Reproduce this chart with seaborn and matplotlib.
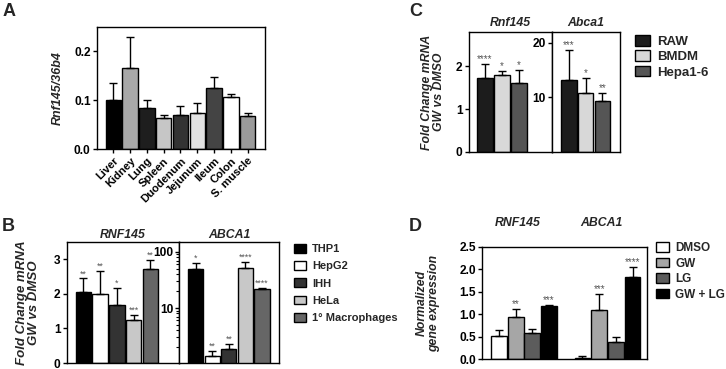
import numpy as np
import pandas as pd
import matplotlib
matplotlib.use('Agg')
import matplotlib.pyplot as plt
from matplotlib.patches import Patch
import seaborn as sns

# Panel A - Rnf145 across mouse tissues
tissues = ['Liver', 'Kidney', 'Lung', 'Spleen', 'Duodenum', 'Jejunum', 'Ileum', 'Colon', 'S. muscle']
tissue_mean = [0.101, 0.167, 0.085, 0.064, 0.070, 0.074, 0.124, 0.107, 0.068]
tissue_err = [0.035, 0.062, 0.016, 0.006, 0.019, 0.021, 0.024, 0.006, 0.006]
tissue_colors = ['#000000', '#a8a8a8', '#1e1e1e', '#c6c6c6', '#333333', '#e2e2e2', '#444444', '#ffffff', '#9a9a9a']

# Panel B - human cells
human_cells = ['THP1', 'HepG2', 'IHH', 'HeLa', '1° Macrophages']
human_colors = ['#000000', '#ffffff', '#333333', '#c8c8c8', '#666666']
b_rnf_mean = [2.06, 2.0, 1.68, 1.25, 2.72]
b_rnf_err = [0.39, 0.67, 0.49, 0.14, 0.27]
b_rnf_stars = ['**', '**', '*', '***', '**']
b_abca_mean = [50, 1.4, 1.87, 52, 22]
b_abca_err = [13, 0.34, 0.43, 14, 1]
b_abca_stars = ['*', '**', '**', '****', '****']

# Panel C - mouse cells
mouse_cells = ['RAW', 'BMDM', 'Hepa1-6']
mouse_colors = ['#1c1c1c', '#d8d8d8', '#555555']
c_rnf_mean = [1.72, 1.79, 1.61]
c_rnf_err = [0.33, 0.10, 0.30]
c_rnf_stars = ['****', '*', '*']
c_abca_mean = [13.2, 10.8, 9.4]
c_abca_err = [5.5, 2.8, 1.4]
c_abca_stars = ['***', '*', '**']

# Panel D - GW / LG treatment
genes = ['RNF145', 'ABCA1']
treatments = ['DMSO', 'GW', 'LG', 'GW + LG']
treat_colors = ['#ffffff', '#a6a6a6', '#5c5c5c', '#000000']
d_rnf_mean = [0.51, 0.94, 0.58, 1.19]
d_rnf_err = [0.14, 0.18, 0.08, 0.02]
d_abca_mean = [0.03, 1.09, 0.37, 1.82]
d_abca_err = [0.03, 0.35, 0.13, 0.24]
d_rnf_stars = ['', '**', '', '***']
d_abca_stars = ['', '***', '', '****']

sns.set_style('ticks')
plt.rcParams['font.family'] = ['Liberation Sans', 'DejaVu Sans']
plt.rcParams['font.weight'] = 'bold'
plt.rcParams['axes.linewidth'] = 1.0
plt.rcParams['axes.edgecolor'] = 'black'
plt.rcParams['xtick.color'] = 'black'
plt.rcParams['ytick.color'] = 'black'

TICK_FS = 8.6
TITLE_FS = 8.8

W, H = 726, 369
fig = plt.figure(figsize=(W / 100, H / 100), dpi=100)


def add_ax(x0, y0, x1, y1):
    return fig.add_axes([x0 / W, 1 - y1 / H, (x1 - x0) / W, (y1 - y0) / H])


def stars_above(ax, xs, tops, stars, fs=7):
    for x, t, s in zip(xs, tops, stars):
        if s:
            ax.annotate(s, (x, t), xytext=(0, 0), textcoords='offset points',
                        ha='center', va='bottom', fontsize=fs, color='#555555', fontweight='normal')


def bar_panel(ax, labels, means, errs, colors, stars=None, width=0.92, star_fs=7):
    df = pd.DataFrame({'label': labels, 'value': means})
    sns.barplot(data=df, x='label', y='value', hue='label', palette=dict(zip(labels, colors)),
                legend=False, width=width, edgecolor='black', linewidth=1.0, ax=ax)
    xs = np.arange(len(labels))
    ax.errorbar(xs, means, yerr=[np.zeros(len(means)), errs], fmt='none', ecolor='black',
                elinewidth=1.0, capsize=3.2, capthick=1.0)
    if stars:
        stars_above(ax, xs, np.array(means) + np.array(errs), stars, star_fs)
    ax.set_xlabel('')
    ax.set_ylabel('')
    ax.tick_params(axis='y', direction='out', length=3, width=1, labelsize=TICK_FS, pad=1.5)


def style_ylabel(ax, text, xpos, fs=8.8):
    ax.set_ylabel(text, fontsize=fs, fontstyle='italic', fontweight='bold', linespacing=1.0)
    ax.yaxis.set_label_coords(xpos, 0.5)


def legend_at(colors, labels, x, y, fs, spacing):
    fig.legend([Patch(facecolor=c, edgecolor='black', linewidth=1.0) for c in colors], labels,
               loc='upper left', bbox_to_anchor=(x / W, 1 - y / H), frameon=False, borderpad=0,
               borderaxespad=0, handlelength=1.1, handleheight=0.85, handletextpad=0.55,
               labelspacing=spacing, prop={'size': fs, 'weight': 'bold'})


# ---- A ----
axA = add_ax(97, 27, 265, 149)
bar_panel(axA, tissues, tissue_mean, tissue_err, tissue_colors)
axA.set_xlim(-0.98, 9.04)
axA.set_ylim(0, 0.25)
axA.set_yticks([0, 0.1, 0.2])
axA.set_yticklabels(['0.0', '0.1', '0.2'])
axA.set_xticks(range(len(tissues)))
axA.set_xticklabels(tissues, rotation=45, ha='right', rotation_mode='anchor', fontsize=8)
axA.tick_params(axis='x', direction='out', length=3, width=1, pad=2)
style_ylabel(axA, 'Rnf145/36b4', -0.2, fs=9)
fig.text(3 / W, 1 - 3 / H, 'A', fontsize=13, fontweight='bold', va='top', ha='left')

# ---- B ----
axB1 = add_ax(67, 242, 179, 363)
bar_panel(axB1, human_cells, b_rnf_mean, b_rnf_err, human_colors, b_rnf_stars, star_fs=6.3)
axB1.set_xlim(-0.98, 5.7)
axB1.set_ylim(0, 3.5)
axB1.set_yticks([0, 1, 2, 3])
axB1.set_xticks([])
axB1.set_title('RNF145', fontsize=TITLE_FS, fontstyle='italic', fontweight='bold', pad=3)
style_ylabel(axB1, 'Fold Change mRNA\nGW vs DMSO', -0.24, fs=9.5)

axB2 = add_ax(179, 242, 279, 363)
bar_panel(axB2, human_cells, b_abca_mean, b_abca_err, human_colors, b_abca_stars, star_fs=6.3)
axB2.set_yscale('log')
axB2.set_xlim(-1.0, 5.02)
axB2.set_ylim(1.05, 150)
axB2.set_yticks([10, 100])
axB2.set_yticklabels(['10', '100'])
axB2.tick_params(axis='y', which='major', pad=1)
axB2.tick_params(axis='y', which='minor', length=2, width=0.8)
axB2.set_xticks([])
axB2.set_title('ABCA1', fontsize=TITLE_FS, fontstyle='italic', fontweight='bold', pad=3)
fig.text(2 / W, 1 - 218 / H, 'B', fontsize=13, fontweight='bold', va='top', ha='left')
legend_at(human_colors, human_cells, 294, 244, 8, 0.62)

# ---- C ----
axC1 = add_ax(469, 32, 552, 152)
bar_panel(axC1, mouse_cells, c_rnf_mean, c_rnf_err, mouse_colors, c_rnf_stars)
axC1.set_xlim(-0.94, 3.94)
axC1.set_ylim(0, 2.8)
axC1.set_yticks([0, 1, 2])
axC1.set_xticks([])
axC1.set_title('Rnf145', fontsize=TITLE_FS, fontstyle='italic', fontweight='bold', pad=4)
style_ylabel(axC1, 'Fold Change mRNA\nGW vs DMSO', -0.29)

axC2 = add_ax(552, 32, 620, 152)
bar_panel(axC2, mouse_cells, c_abca_mean, c_abca_err, mouse_colors, c_abca_stars)
axC2.set_xlim(-1.0, 3.04)
axC2.set_ylim(0, 22)
axC2.set_yticks([10, 20])
axC2.set_xticks([])
axC2.set_title('Abca1', fontsize=TITLE_FS, fontstyle='italic', fontweight='bold', pad=4)
fig.text(409 / W, 1 - 3 / H, 'C', fontsize=13, fontweight='bold', va='top', ha='left')
legend_at(mouse_colors, mouse_cells, 635, 35, 9.5, 0.2)

# ---- D ----
axD = add_ax(482, 247, 647, 359)
d_df = pd.DataFrame({
    'gene': [g for g in genes for _ in treatments],
    'treatment': treatments * len(genes),
    'value': d_rnf_mean + d_abca_mean,
})
sns.barplot(data=d_df, x='gene', y='value', hue='treatment', order=genes, hue_order=treatments,
            palette=dict(zip(treatments, treat_colors)), width=0.8, gap=0.05, legend=False,
            edgecolor='black', linewidth=1.0, ax=axD)
bar_conts = list(axD.containers)
for i, cont in enumerate(bar_conts):
    xs = [p.get_x() + p.get_width() / 2 for p in cont.patches]
    means = [d_rnf_mean[i], d_abca_mean[i]]
    errs = [d_rnf_err[i], d_abca_err[i]]
    axD.errorbar(xs, means, yerr=[np.zeros(2), errs], fmt='none', ecolor='black',
                 elinewidth=1.0, capsize=3.2, capthick=1.0)
    stars_above(axD, xs, np.array(means) + np.array(errs), [d_rnf_stars[i], d_abca_stars[i]])
axD.set_xlim(-0.503, 1.473)
axD.set_ylim(0, 2.5)
axD.set_yticks(np.arange(0, 2.51, 0.5))
axD.set_yticklabels(['%.1f' % v for v in np.arange(0, 2.51, 0.5)])
axD.set_xticks([])
axD.set_xlabel('')
axD.tick_params(axis='y', direction='out', length=3, width=1, labelsize=TICK_FS, pad=1.5)
for j, g in enumerate(genes):
    axD.text(j - 0.07, 1.215, g, transform=axD.get_xaxis_transform(), ha='center', va='center',
             fontsize=TITLE_FS, fontstyle='italic', fontweight='bold')
style_ylabel(axD, 'Normalized\ngene expression', -0.255)
fig.text(409 / W, 1 - 218 / H, 'D', fontsize=13, fontweight='bold', va='top', ha='left')
legend_at(treat_colors, treatments, 656, 242, 8.5, 0.3)

for ax in [axA, axB1, axB2, axC1, axC2, axD]:
    for sp in ax.spines.values():
        sp.set_visible(True)
        sp.set_linewidth(1.0)

fig.savefig('out.png', dpi=100)
